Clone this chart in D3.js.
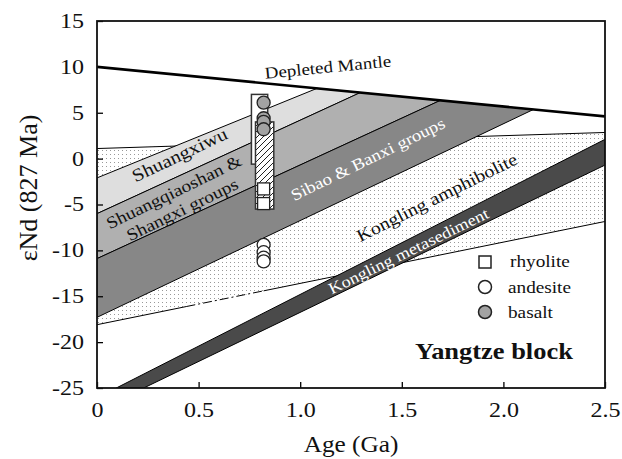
<!DOCTYPE html>
<html>
<head>
<meta charset="utf-8">
<script src="https://cdn.jsdelivr.net/npm/d3@7"></script>
<style>
  body { margin: 0; background: #fff; }
  text { font-family: "Liberation Serif", "Times New Roman", serif; }
</style>
</head>
<body>
<div id="chart"></div>
<script>
// ---- data (age in Ga, eNd) ----
var xTicks = [0, 0.5, 1.0, 1.5, 2.0, 2.5];
var xTickLabels = ["0", "0.5", "1.0", "1.5", "2.0", "2.5"];
var yTicks = [15, 10, 5, 0, -5, -10, -15, -20, -25];

// depleted mantle evolution line
var dmLine = [[0, 10], [2.5, 4.6]];

// crustal fields bounded by lines that start at age 0 and end on the DM line
var bandNames = ["Shuangxiwu", "Shuangqiaoshan & Shangxi groups", "Sibao & Banxi groups"];
var bandStart = [-2.1, -6.0, -10.9, -17.3];      // eNd of each boundary at 0 Ga
var bandMeetDM = [1.083, 1.296, 1.69, 2.148];    // age where each boundary meets DM

// Kongling amphibolite field
var amphTop = [[0, 1.1], [2.5, 2.85]];
var amphBottom = [[0, -18.1], [2.5, -6.85]];

// Kongling metasediment band
var metaTop = [[0.095, -25], [2.5, 2.1]];
var metaBottom = [[0.23, -25], [2.5, -0.7]];

// samples
var sampleAge = 0.82;
var rhyolite = [-3.3, -4.9];
var andesite = [-9.4, -10.2, -10.8, -11.2];
var basalt = [6.1, 4.4, 4.0, 3.2];

// range boxes [ageMin, ageMax, eNdTop, eNdBottom]
var boxOpen = [0.76, 0.84, 7.0, -0.6];
var boxHatch = [0.78, 0.87, 4.0, -5.5];

// ---- layout ----
var margin = {top: 21, right: 17, bottom: 71, left: 97},
    width = 622 - margin.left - margin.right,
    height = 459 - margin.top - margin.bottom;
var SX = 1.15; // the original figure is stretched a bit sideways

var svg = d3.select("#chart")
    .append("svg")
    .attr("width", 622)
    .attr("height", 459);

var defs = svg.append("defs");

defs.append("clipPath").attr("id", "plotClip")
  .append("rect").attr("width", width).attr("height", height);

var dots = defs.append("pattern")
    .attr("id", "dots")
    .attr("patternUnits", "userSpaceOnUse")
    .attr("width", 4).attr("height", 4);
dots.append("rect").attr("width", 4).attr("height", 4).attr("fill", "#fff");
dots.append("rect").attr("x", 1).attr("y", 1).attr("width", 1).attr("height", 1).attr("fill", "#999");

var hatch = defs.append("pattern")
    .attr("id", "hatch")
    .attr("patternUnits", "userSpaceOnUse")
    .attr("width", 6).attr("height", 6);
hatch.append("rect").attr("width", 6).attr("height", 6).attr("fill", "#fff");
hatch.append("path")
    .attr("d", "M-1,1 l2,-2 M0,6 l6,-6 M5,7 l2,-2")
    .attr("stroke", "#222").attr("stroke-width", 1);

var g = svg.append("g")
    .attr("transform", "translate(" + margin.left + "," + margin.top + ")");

var x = d3.scaleLinear().domain([0, 2.5]).range([0, width]);
var y = d3.scaleLinear().domain([-25, 15]).range([height, 0]);

var line = d3.line()
    .x(function(d) { return x(d[0]); })
    .y(function(d) { return y(d[1]); });

function dmAt(a) {
  return dmLine[0][1] + (dmLine[1][1] - dmLine[0][1]) * (a - dmLine[0][0]) / (dmLine[1][0] - dmLine[0][0]);
}

var plot = g.append("g").attr("clip-path", "url(#plotClip)");

// Kongling amphibolite (dotted)
plot.append("path")
    .attr("d", line(amphTop.concat(amphBottom.slice().reverse())) + "Z")
    .attr("fill", "url(#dots)");
plot.append("path")
    .attr("d", line(amphTop))
    .attr("fill", "none").attr("stroke", "#000").attr("stroke-width", 1);

// lower boundary, with the broken stretch seen in the original
var eSplit = [0.44, 0.82];
function onBottom(a) {
  var p = amphBottom;
  return [a, p[0][1] + (p[1][1] - p[0][1]) * (a - p[0][0]) / (p[1][0] - p[0][0])];
}
plot.append("path")
    .attr("d", line([amphBottom[0], onBottom(eSplit[0])]) + line([onBottom(eSplit[1]), amphBottom[1]]))
    .attr("fill", "none").attr("stroke", "#000").attr("stroke-width", 1);
plot.append("path")
    .attr("d", line([onBottom(eSplit[0]), onBottom(eSplit[1])]))
    .attr("fill", "none").attr("stroke", "#000").attr("stroke-width", 1)
    .attr("stroke-dasharray", "9,3,2,3");

// grey bands
var bandFill = ["#dedede", "#b0b0b0", "#878787"];
bandNames.forEach(function(name, i) {
  var poly = [
    [0, bandStart[i]],
    [bandMeetDM[i], dmAt(bandMeetDM[i])],
    [bandMeetDM[i + 1], dmAt(bandMeetDM[i + 1])],
    [0, bandStart[i + 1]]
  ];
  plot.append("path")
      .attr("class", "band")
      .attr("d", line(poly) + "Z")
      .attr("fill", bandFill[i])
      .attr("stroke", "#000")
      .attr("stroke-width", 1)
      .attr("stroke-linejoin", "round");
});

// Kongling metasediment
plot.append("path")
    .attr("d", line(metaTop.concat(metaBottom.slice().reverse())) + "Z")
    .attr("fill", "#4a4a4a")
    .attr("stroke", "#000").attr("stroke-width", 1);

// depleted mantle
plot.append("path")
    .attr("d", line(dmLine))
    .attr("fill", "none").attr("stroke", "#000").attr("stroke-width", 2.6);

// range boxes
g.append("rect")
    .attr("x", x(boxOpen[0])).attr("y", y(boxOpen[2]))
    .attr("width", x(boxOpen[1]) - x(boxOpen[0]))
    .attr("height", y(boxOpen[3]) - y(boxOpen[2]))
    .attr("fill", "#fff").attr("stroke", "#333").attr("stroke-width", 1.5);
g.append("rect")
    .attr("x", x(boxHatch[0])).attr("y", y(boxHatch[2]))
    .attr("width", x(boxHatch[1]) - x(boxHatch[0]))
    .attr("height", y(boxHatch[3]) - y(boxHatch[2]))
    .attr("fill", "url(#hatch)").attr("stroke", "#333").attr("stroke-width", 1.5);

// samples
var sq = 12, r = 6.5;
g.selectAll(".rhy").data(rhyolite).enter().append("rect")
    .attr("class", "rhy")
    .attr("x", x(sampleAge) - sq / 2)
    .attr("y", function(d) { return y(d) - sq / 2; })
    .attr("width", sq).attr("height", sq)
    .attr("fill", "#fff").attr("stroke", "#222").attr("stroke-width", 1.3);
g.selectAll(".and").data(andesite).enter().append("circle")
    .attr("class", "and")
    .attr("cx", x(sampleAge))
    .attr("cy", function(d) { return y(d); })
    .attr("r", r)
    .attr("fill", "#fff").attr("stroke", "#222").attr("stroke-width", 1.3);
g.selectAll(".bas").data(basalt).enter().append("circle")
    .attr("class", "bas")
    .attr("cx", x(sampleAge))
    .attr("cy", function(d) { return y(d); })
    .attr("r", r)
    .attr("fill", "#a3a3a3").attr("stroke", "#222").attr("stroke-width", 1.3);

// stretched text helper
function label(parent, px, py, angle, txt, size, opts) {
  opts = opts || {};
  var t = parent.append("g")
      .attr("transform", "translate(" + px + "," + py + ") rotate(" + angle + ") scale(" + (opts.sx || SX) + ",1)")
    .append("text")
      .attr("text-anchor", opts.anchor || "start")
      .attr("font-size", size + "px")
      .attr("font-weight", opts.bold ? "bold" : "normal")
      .attr("fill", opts.fill || "#111");
  if (Array.isArray(txt)) {
    txt.forEach(function(s, i) {
      t.append("tspan").attr("x", 0).attr("dy", i ? "1.15em" : 0).text(s);
    });
  } else {
    t.text(txt);
  }
  return t;
}

// field labels
label(g, x(0.828), y(8.7), -5.6, "Depleted Mantle", 16.5);
label(g, x(0.19), y(-2.6), -25.5, "Shuangxiwu", 18);
label(g, x(0.39), y(-4.2), -26, ["Shuangqiaoshan &", "Shangxi groups"], 17, {anchor: "middle"});
label(g, x(1.345), y(-0.6), -26, "Sibao & Banxi groups", 16.5, {anchor: "middle", fill: "#fff"});
label(g, x(1.685), y(-4.8), -26.5, "Kongling amphibolite", 17.5, {anchor: "middle"});
label(g, x(1.545), y(-10.6), -26, "Kongling metasediment", 16, {anchor: "middle", fill: "#fff"});

// legend
var legend = svg.append("g").attr("transform", "translate(485,262)");
legend.append("rect").attr("x", -6).attr("y", -6).attr("width", 12).attr("height", 12)
    .attr("fill", "#fff").attr("stroke", "#222").attr("stroke-width", 1.5);
legend.append("circle").attr("cx", 0).attr("cy", 25).attr("r", 6.5)
    .attr("fill", "#fff").attr("stroke", "#222").attr("stroke-width", 1.5);
legend.append("circle").attr("cx", 0).attr("cy", 50).attr("r", 6.5)
    .attr("fill", "#a3a3a3").attr("stroke", "#222").attr("stroke-width", 1.5);
label(legend, 25, 5, 0, "rhyolite", 17.5, {sx: 1.1});
label(legend, 23, 31, 0, "andesite", 17.5, {sx: 1.1});
label(legend, 23, 56, 0, "basalt", 17.5, {sx: 1.1});

label(svg, 415, 359, 0, "Yangtze block", 23, {bold: true});

// axes
var yAxis = g.append("g")
    .call(d3.axisLeft(y).tickValues(yTicks).tickSizeInner(-6).tickSizeOuter(0)
        .tickFormat(function(d) { return String(d); }));
yAxis.select(".domain").remove();
yAxis.selectAll("text")
    .attr("x", 0)
    .attr("transform", "translate(-13,0) scale(1.2,1)")
    .style("font-size", "20px")
    .style("font-family", "'Liberation Serif', serif")
    .attr("fill", "#111");
yAxis.selectAll("line").attr("stroke-width", 1.3);

var xAxis = g.append("g")
    .attr("transform", "translate(0," + height + ")")
    .call(d3.axisBottom(x).tickValues(xTicks)
        .tickFormat(function(d, i) { return xTickLabels[i]; })
        .tickSizeInner(-6).tickSizeOuter(0).tickPadding(15));
xAxis.select(".domain").remove();
xAxis.selectAll("text")
    .attr("transform", "scale(1.2,1)")
    .style("font-size", "20px")
    .style("font-family", "'Liberation Serif', serif")
    .attr("fill", "#111");
xAxis.selectAll("line").attr("stroke-width", 1.3);

// frame
g.append("rect")
    .attr("width", width).attr("height", height)
    .attr("fill", "none").attr("stroke", "#111").attr("stroke-width", 1.8);

// axis titles
label(svg, margin.left + width / 2, 452, 0, "Age (Ga)", 23, {anchor: "middle", sx: 1.1});
svg.append("text")
    .attr("transform", "translate(37,188) rotate(-90)")
    .attr("text-anchor", "middle")
    .attr("font-size", "26px")
    .attr("fill", "#111")
    .text("εNd (827 Ma)");
</script>
</body>
</html>
